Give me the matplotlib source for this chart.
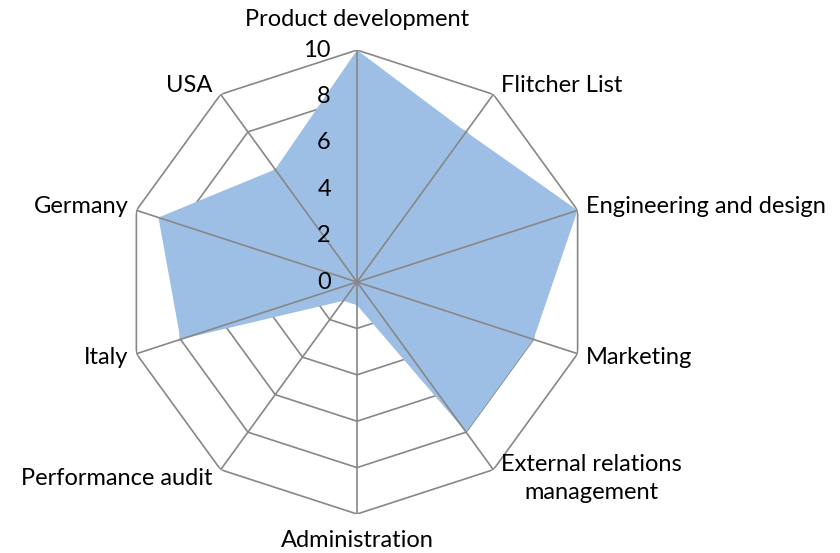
import matplotlib

matplotlib.use("Agg")

import matplotlib.pyplot as plt
import numpy as np

plt.rcParams["font.family"] = ["Lato", "DejaVu Sans"]

categories = [
    "Product development",
    "Flitcher List",
    "Engineering and design",
    "Marketing",
    "External relations\nmanagement",
    "Administration",
    "Performance audit",
    "Italy",
    "Germany",
    "USA",
]
values = [10, 8, 10, 8, 8, 1, 1, 8, 9, 6]
rings = [2, 4, 6, 8, 10]
ring_labels = ["0", "2", "4", "6", "8", "10"]

FILL = "#9EBFE5"
GRID = "#878787"

fig = plt.figure(figsize=(8.4, 5.53), dpi=100)
ax = fig.add_axes([0.1488, 0.0705, 0.5524, 0.839], projection="polar")
ax.set_theta_offset(np.pi / 2)
ax.set_theta_direction(-1)
ax.set_ylim(0, 10)
ax.grid(False)
ax.spines["polar"].set_visible(False)
ax.set_xticks([])
ax.set_yticks([])
ax.patch.set_visible(False)

n = len(categories)
theta = np.linspace(0, 2 * np.pi, n, endpoint=False)
closed = np.append(theta, theta[0])

# polygon rings sit behind the fill
for r in rings:
    ax.plot(closed, [r] * (n + 1), color=GRID, lw=1.2, zorder=1)

ax.fill(closed, values + values[:1], color=FILL, lw=0, zorder=2)

# spokes drawn over the fill
for t in theta:
    ax.plot([t, t], [0, 10], color=GRID, lw=1.2, zorder=3)

# radial value labels along the top spoke
for i, lab in enumerate(ring_labels):
    ax.annotate(lab, xy=(0, i * 2), xytext=(-26, 0), textcoords="offset pixels",
                ha="right", va="center", fontsize=17, zorder=4)

# category labels around the outside
for t, lab in zip(theta, categories):
    s, c = np.sin(t), np.cos(t)
    if abs(s) < 1e-6:
        dx, dy, ha = 0, (31 if c > 0 else -26), "center"
    else:
        dx, dy, ha = 8 * np.sign(s), 11 * c, ("left" if s > 0 else "right")
    ax.annotate(lab, xy=(t, 10), xytext=(dx, dy), textcoords="offset pixels",
                ha=ha, va="center", multialignment="center", fontsize=17,
                linespacing=1.45, annotation_clip=False, zorder=4)

fig.savefig("out.png", dpi=100)
